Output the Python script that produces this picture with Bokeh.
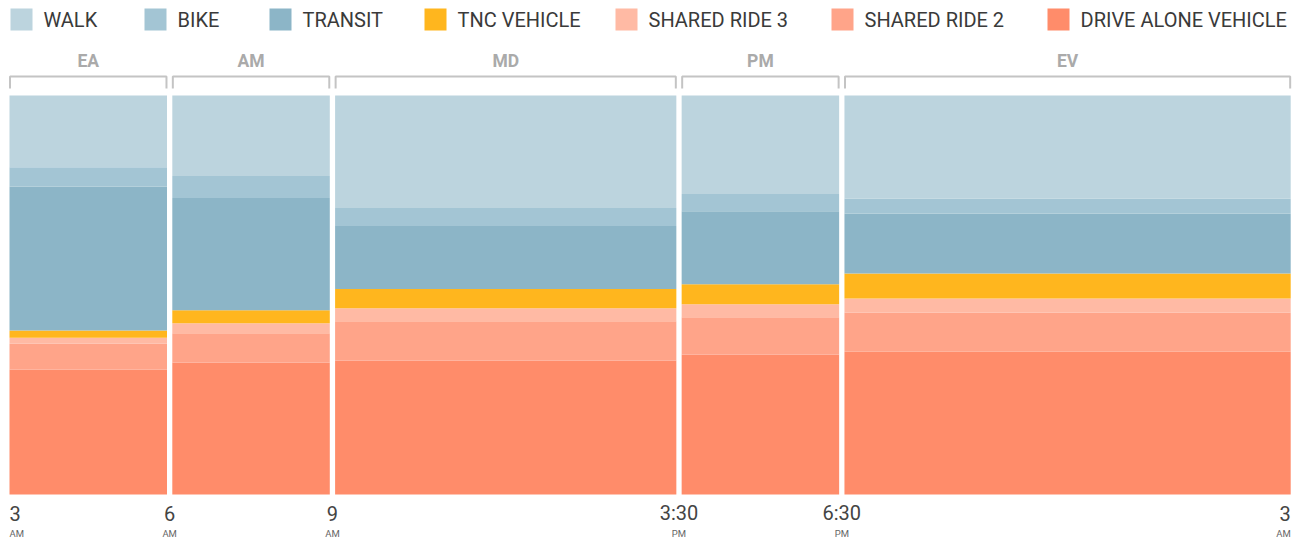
from bokeh.plotting import figure
from bokeh.models import Range1d, ColumnDataSource
from bokeh.core.properties import value
from bokeh.embed import file_html
from bokeh.resources import INLINE

# ---------------- data ----------------
periods = ["EA", "AM", "MD", "PM", "EV"]
period_hours = [3, 3, 6.5, 3, 8.5]          # 3AM-6AM, 6-9, 9-3:30PM, 3:30-6:30, 6:30-3AM

modes = ["WALK", "BIKE", "TRANSIT", "TNC VEHICLE",
         "SHARED RIDE 3", "SHARED RIDE 2", "DRIVE ALONE VEHICLE"]
walk          = [18.0, 20.2, 28.2, 24.7, 25.8]
bike          = [4.8, 5.5, 4.5, 4.3, 3.8]
transit       = [36.1, 28.1, 15.8, 18.3, 15.0]
tnc_vehicle   = [1.8, 3.3, 4.8, 5.0, 6.3]
shared_ride_3 = [1.5, 2.5, 3.3, 3.3, 3.5]
shared_ride_2 = [6.5, 7.3, 9.8, 9.3, 9.8]
drive_alone   = [31.3, 33.1, 33.6, 35.1, 35.8]

time_labels = ["3", "6", "9", "3:30", "6:30", "3"]
ampm_labels = ["AM", "AM", "AM", "PM", "PM", "AM"]

# ---------------- styles / layout ----------------
colors = {
    "WALK": "#bcd4de", "BIKE": "#a3c5d4", "TRANSIT": "#8cb5c7",
    "TNC VEHICLE": "#ffb61e", "SHARED RIDE 3": "#ffbaa4",
    "SHARED RIDE 2": "#ffa489", "DRIVE ALONE VEHICLE": "#ff8c6a",
}
FONT = "Roboto"
W, H = 1296, 540
ORIGIN = 0      # page offset of the figure
TEXT_DY = 0.375 # text baseline compensation (fraction of font size)
PXH = 52.5      # pixels per hour
PXP = 3.99      # pixels per percent
GAP_PX = 5.3
GAP = GAP_PX / PXH
BAR_LEFT_PX = 9
BAR_BOTTOM_PX = 494

xs = -(BAR_LEFT_PX - ORIGIN) / PXH
xe = xs + W / PXH
ys = -(H - (BAR_BOTTOM_PX - ORIGIN)) / PXP
ye = ys + H / PXP


def X(px):   # page px -> data x
    return xs + (px - ORIGIN) / PXH


def Y(py):   # page px -> data y
    return ye - (py - ORIGIN) / PXP


def YT(py, size):  # page px of a text baseline -> data y
    return Y(py - TEXT_DY * size)


p = figure(width=W, height=H, x_range=Range1d(xs, xe), y_range=Range1d(ys, ye),
           output_backend="svg", toolbar_location=None, min_border=0,
           x_axis_location=None, y_axis_location=None, outline_line_color=None,
           background_fill_color="white", border_fill_color="white")
p.grid.visible = False

# bar extents
lefts, rights = [], []
cum = 0.0
for i, h in enumerate(period_hours):
    lefts.append(cum + i * GAP)
    rights.append(cum + h + i * GAP)
    cum += h

series = {"WALK": walk, "BIKE": bike, "TRANSIT": transit, "TNC VEHICLE": tnc_vehicle,
          "SHARED RIDE 3": shared_ride_3, "SHARED RIDE 2": shared_ride_2,
          "DRIVE ALONE VEHICLE": drive_alone}
stack_order = list(reversed(modes))  # bottom first
totals = [sum(series[m][i] for m in modes) for i in range(len(periods))]
base = [0.0] * len(periods)
for m in stack_order:
    vals = [series[m][i] / totals[i] * 100 for i in range(len(periods))]
    tops = [base[i] + vals[i] for i in range(len(periods))]
    src = ColumnDataSource(dict(left=lefts, right=rights, bottom=list(base), top=tops))
    p.quad(left="left", right="right", bottom="bottom", top="top", source=src,
           fill_color=colors[m], line_color=None)
    base = tops

# brackets + period labels
bx, by = [], []
for l, r in zip(lefts, rights):
    bx.append([l + 0.01, l + 0.01, r - 0.01, r - 0.01])
    by.append([Y(88), Y(76), Y(76), Y(88)])
p.multi_line(xs=bx, ys=by, line_color="#c4c4c4", line_width=2)
p.text(x=[(l + r) / 2 for l, r in zip(lefts, rights)], y=[YT(67, 17.5)] * len(periods),
       text=periods, text_font=value(FONT), text_font_size=value("17.5px"),
       text_font_style="bold", text_color="#aaaaaa", text_align="center",
       text_baseline="alphabetic")

# time labels
bounds = [lefts[0]] + [(rights[i] + lefts[i + 1]) / 2 for i in range(len(periods) - 1)] + [rights[-1]]
aligns = ["left"] + ["center"] * (len(bounds) - 2) + ["right"]
for b, t, a, al in zip(bounds, time_labels, ampm_labels, aligns):
    p.text(x=[b], y=[YT(520, 20)], text=[t], text_font=value(FONT), text_font_size=value("20px"),
           text_color="#444444", text_align=al, text_baseline="alphabetic")
    p.text(x=[b], y=[YT(537, 9.5)], text=[a], text_font=value(FONT), text_font_size=value("9.5px"),
           text_color="#666666", text_align=al, text_baseline="alphabetic")

# legend
legend_px = [10, 144, 269, 424, 615, 831, 1047]
SQ = 22
for m, lx in zip(modes, legend_px):
    p.quad(left=[X(lx)], right=[X(lx + SQ)], top=[Y(8)], bottom=[Y(8 + SQ)],
           fill_color=colors[m], line_color=None)
    p.text(x=[X(lx + 33)], y=[YT(26.5, 20)], text=[m], text_font=value(FONT),
           text_font_size=value("20px"), text_color="#3a3a3a", text_align="left",
           text_baseline="alphabetic")

open("out.html", "w").write(file_html(p, INLINE))
